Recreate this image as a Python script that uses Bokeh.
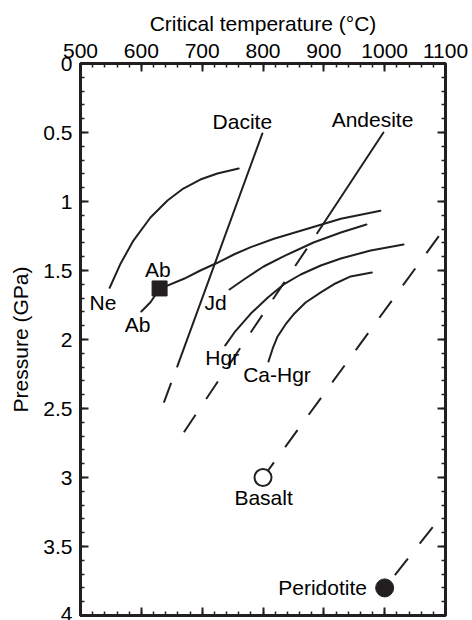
from bokeh.plotting import figure
from bokeh.models import Range1d, LinearAxis, SingleIntervalTicker, CustomJSTickFormatter
from bokeh.embed import file_html
from bokeh.resources import INLINE
from bokeh.core.properties import value

# ---------------- data ----------------
x_tick_values = [500, 600, 700, 800, 900, 1000, 1100]
x_tick_labels = ["500", "600", "700", "800", "900", "1000", "1100"]
y_tick_values = [0, 0.5, 1, 1.5, 2, 2.5, 3, 3.5, 4]
y_tick_labels = ["0", "0.5", "1", "1.5", "2", "2.5", "3", "3.5", "4"]

ne_T = [548, 566, 587, 615, 643, 669, 697, 725, 760]
ne_P = [1.625, 1.449, 1.283, 1.116, 0.993, 0.906, 0.841, 0.797, 0.761]

ab_T = [600, 615, 630, 670, 697, 725, 752, 780, 818, 873, 928, 993]
ab_P = [1.797, 1.730, 1.633, 1.560, 1.500, 1.444, 1.384, 1.331, 1.270, 1.198, 1.125, 1.067]

jd_T = [745, 771, 801, 837, 883, 928, 970]
jd_P = [1.638, 1.558, 1.471, 1.391, 1.297, 1.225, 1.167]

hgr_T = [738, 753, 780, 808, 834, 862, 895, 928, 977, 1031]
hgr_P = [2.043, 1.949, 1.812, 1.696, 1.601, 1.529, 1.464, 1.413, 1.355, 1.312]

cahgr_T = [809, 816, 824, 837, 850, 870, 895, 919, 944, 979]
cahgr_P = [2.159, 2.065, 1.978, 1.891, 1.819, 1.732, 1.659, 1.594, 1.543, 1.514]

dacite_solid_T = [799, 659]
dacite_solid_P = [0.507, 2.196]
dacite_dash_T = [637, 659]
dacite_dash_P = [2.457, 2.196]

andesite_solid_T = [998, 889]
andesite_solid_P = [0.50, 1.23]
andesite_dash_T = [670, 889]
andesite_dash_P = [2.672, 1.23]

basalt_dash_T = [1089, 800]
basalt_dash_P = [1.251, 3.0]
peridotite_dash_T = [1079, 1000]
peridotite_dash_P = [3.36, 3.80]

ab_point = (630, 1.63)
basalt_point = (800, 3.0)
peridotite_point = (1000, 3.8)

labels_text = ["Dacite", "Andesite", "Ne", "Ab", "Ab", "Jd", "Hgr", "Ca-Hgr", "Basalt", "Peridotite"]
labels_T = [766, 980, 537, 627, 594, 722, 733, 823, 801, 898]
labels_P = [0.42, 0.406, 1.73, 1.49, 1.89, 1.73, 2.13, 2.25, 3.145, 3.80]

# ---------------- style ----------------
FONT = "Liberation Sans"
INK = "#231f20"
FS = "21px"

p = figure(width=472, height=620,
           x_range=Range1d(500, 1100), y_range=Range1d(4, 0),
           x_axis_location="above",
           output_backend="svg", toolbar_location=None,
           min_border_left=80, min_border_right=27,
           min_border_top=63, min_border_bottom=5)
p.xgrid.visible = False
p.ygrid.visible = False
p.background_fill_color = "white"
p.outline_line_color = INK
p.outline_line_width = 3


def style_axis(ax, labels=True):
    ax.axis_line_color = None
    ax.major_tick_in = 8
    ax.major_tick_out = 0
    ax.minor_tick_in = 4
    ax.minor_tick_out = 0
    ax.major_tick_line_color = INK
    ax.major_tick_line_width = 2
    ax.minor_tick_line_color = INK
    ax.minor_tick_line_width = 1.5
    if labels:
        ax.major_label_text_font = FONT
        ax.major_label_text_font_size = FS
        ax.major_label_text_color = "black"
        ax.axis_label_text_font = FONT
        ax.axis_label_text_font_size = FS
        ax.axis_label_text_font_style = "normal"
        ax.axis_label_text_color = "black"
    else:
        ax.formatter = CustomJSTickFormatter(code="return ''")
        ax.major_label_standoff = 0
        ax.axis_label = None


xa = p.xaxis[0]
xa.ticker = SingleIntervalTicker(interval=100, num_minor_ticks=5)
xa.axis_label = "Critical temperature (°C)"
xa.major_label_overrides = dict(zip(x_tick_values, x_tick_labels))
style_axis(xa)
xa.major_label_standoff = 6
xa.axis_label_standoff = 6

ya = p.yaxis[0]
ya.ticker = SingleIntervalTicker(interval=0.5, num_minor_ticks=5)
ya.axis_label = "Pressure (GPa)"
ya.major_label_overrides = {v: l for v, l in zip(y_tick_values, y_tick_labels)}
style_axis(ya)
ya.major_label_standoff = 8
ya.axis_label_standoff = 8

xb = LinearAxis(ticker=SingleIntervalTicker(interval=100, num_minor_ticks=5))
style_axis(xb, labels=False)
p.add_layout(xb, "below")
yr = LinearAxis(ticker=SingleIntervalTicker(interval=0.5, num_minor_ticks=5))
style_axis(yr, labels=False)
p.add_layout(yr, "right")

LW = 2
DASH = "21 19"

for T, P in [(ne_T, ne_P), (ab_T, ab_P), (jd_T, jd_P), (hgr_T, hgr_P), (cahgr_T, cahgr_P),
             (dacite_solid_T, dacite_solid_P), (andesite_solid_T, andesite_solid_P)]:
    p.line(T, P, line_color=INK, line_width=LW, line_join="round", line_cap="round")

for T, P in [(dacite_dash_T, dacite_dash_P), (andesite_dash_T, andesite_dash_P),
             (basalt_dash_T, basalt_dash_P), (peridotite_dash_T, peridotite_dash_P)]:
    p.line(T, P, line_color=INK, line_width=LW, line_dash=DASH)

p.scatter([ab_point[0]], [ab_point[1]], marker="square", size=15,
          fill_color=INK, line_color=INK, line_width=1)
p.scatter([basalt_point[0]], [basalt_point[1]], marker="circle", size=17,
          fill_color="white", line_color=INK, line_width=2)
p.scatter([peridotite_point[0]], [peridotite_point[1]], marker="circle", size=18,
          fill_color=INK, line_color=INK, line_width=1)

p.text(x=labels_T, y=labels_P, text=labels_text,
       text_font=value(FONT), text_font_size=FS, text_color="black",
       text_align="center", text_baseline="middle")

open("out.html", "w").write(file_html(p, INLINE))
